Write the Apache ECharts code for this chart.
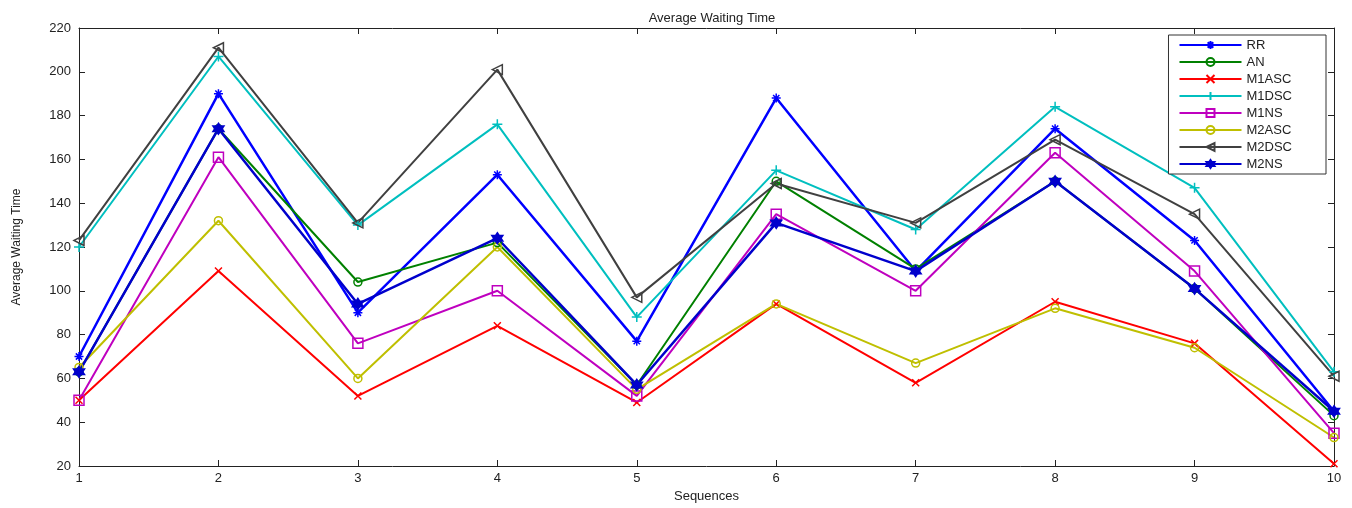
<!DOCTYPE html>
<html>
<head>
<meta charset="utf-8">
<script src="https://cdn.jsdelivr.net/npm/echarts@6/dist/echarts.min.js"></script>
<style>
  html, body { margin: 0; padding: 0; background: #fff; }
  #chart { width: 1352px; height: 508px; }
</style>
</head>
<body>
<div id="chart"></div>
<script>
// sequences on the x axis
var sequences = ['1', '2', '3', '4', '5', '6', '7', '8', '9', '10'];

// average waiting time per algorithm
var rr     = [70, 190, 90, 153, 77, 188, 109, 174, 123, 45];
var an     = [63, 174, 104, 122, 57, 150, 110, 150, 101, 43];
var m1asc  = [50, 109, 52, 84, 49, 94, 58, 95, 76, 21];
var m1dsc  = [120, 207, 130, 176, 88, 155, 128, 184, 147, 63];
var m1ns   = [50, 161, 76, 100, 52, 135, 100, 163, 109, 35];
var m2asc  = [65, 132, 60, 120, 55, 94, 67, 92, 74, 33];
var m2dsc  = [123, 211, 131, 201, 97, 149, 131, 169, 135, 61];
var m2ns   = [63, 174, 94, 124, 57, 131, 109, 150, 101, 45];

// marker shapes (matlab style)
var symStar = 'path://M5,0L5,10M0,5L10,5M1.5,1.5L8.5,8.5M1.5,8.5L8.5,1.5';
var symX    = 'path://M0,0L10,10M0,10L10,0';
var symPlus = 'path://M5,0L5,10M0,5L10,5';
var symLeft = 'path://M0,5L10,0L10,10Z';
var symHex  = 'path://M5,0L9.33,7.5L0.67,7.5ZM5,10L0.67,2.5L9.33,2.5Z';
var hollow = 'rgba(255,255,255,0)';

function mkSeries(name, data, color, symbol, size, fill, width) {
  return {
    name: name,
    type: 'line',
    data: data,
    symbol: symbol,
    symbolSize: size,
    showAllSymbol: true,
    animation: false,
    color: color,
    lineStyle: { color: color, width: width },
    itemStyle: { color: fill, borderColor: color, borderWidth: 1.5 }
  };
}

var axisCol = '#222';
var font = 'Liberation Sans, Arial, sans-serif';

var chart = echarts.init(document.getElementById('chart'));
chart.setOption({
  backgroundColor: '#fff',
  title: {
    text: 'Average Waiting Time',
    left: 707,
    textAlign: 'center',
    top: 7,
    textStyle: { fontSize: 13, fontWeight: 'normal', color: '#222', fontFamily: font }
  },
  legend: {
    orient: 'vertical',
    right: 26,
    top: 35,
    padding: [3, 34, 3, 10],
    itemWidth: 62,
    itemHeight: 10,
    itemGap: 3,
    backgroundColor: '#fff',
    borderColor: '#333',
    borderWidth: 1,
    textStyle: { fontSize: 13, lineHeight: 14, color: '#222', fontFamily: font }
  },
  grid: { left: 79, right: 18, top: 28, bottom: 32 },
  xAxis: [
    {
      type: 'category',
      data: sequences,
      boundaryGap: false,
      name: 'Sequences',
      nameLocation: 'middle',
      nameGap: 24,
      nameTextStyle: { fontSize: 13, color: '#222', fontFamily: font },
      axisLine: { lineStyle: { color: axisCol, width: 1 } },
      axisTick: { inside: true, length: 6, lineStyle: { color: axisCol } },
      axisLabel: { fontSize: 13, color: '#222', margin: 6, fontFamily: font },
      splitLine: { show: false }
    },
    {
      type: 'category',
      data: sequences,
      boundaryGap: false,
      position: 'top',
      axisLine: { lineStyle: { color: axisCol, width: 1 } },
      axisTick: { inside: true, length: 6, lineStyle: { color: axisCol } },
      axisLabel: { show: false }
    }
  ],
  yAxis: [
    {
      type: 'value',
      min: 20,
      max: 220,
      interval: 20,
      name: 'Average Waiting Time',
      nameLocation: 'middle',
      nameGap: 56,
      nameTextStyle: { fontSize: 12, color: '#222', fontFamily: font },
      axisLine: { show: true, lineStyle: { color: axisCol, width: 1 } },
      axisTick: { show: true, inside: true, length: 6, lineStyle: { color: axisCol } },
      axisLabel: { fontSize: 13, color: '#222', margin: 8, fontFamily: font },
      splitLine: { show: false }
    },
    {
      type: 'value',
      min: 20,
      max: 220,
      interval: 20,
      position: 'right',
      axisLine: { show: true, lineStyle: { color: axisCol, width: 1 } },
      axisTick: { show: true, inside: true, length: 6, lineStyle: { color: axisCol } },
      axisLabel: { show: false },
      splitLine: { show: false }
    }
  ],
  series: [
    mkSeries('RR', rr, '#0000ff', symStar, 9, '#0000ff', 2.5),
    mkSeries('AN', an, '#008000', 'circle', 8, hollow, 2),
    mkSeries('M1ASC', m1asc, '#ff0000', symX, 7, '#ff0000', 2),
    mkSeries('M1DSC', m1dsc, '#00bfbf', symPlus, 10, '#00bfbf', 2),
    mkSeries('M1NS', m1ns, '#bf00bf', 'rect', 10, hollow, 2),
    mkSeries('M2ASC', m2asc, '#bfbf00', 'circle', 8, hollow, 2),
    mkSeries('M2DSC', m2dsc, '#404040', symLeft, 10, hollow, 2),
    mkSeries('M2NS', m2ns, '#0000cc', symHex, 11, '#0000cc', 2.5)
  ]
});
</script>
</body>
</html>
